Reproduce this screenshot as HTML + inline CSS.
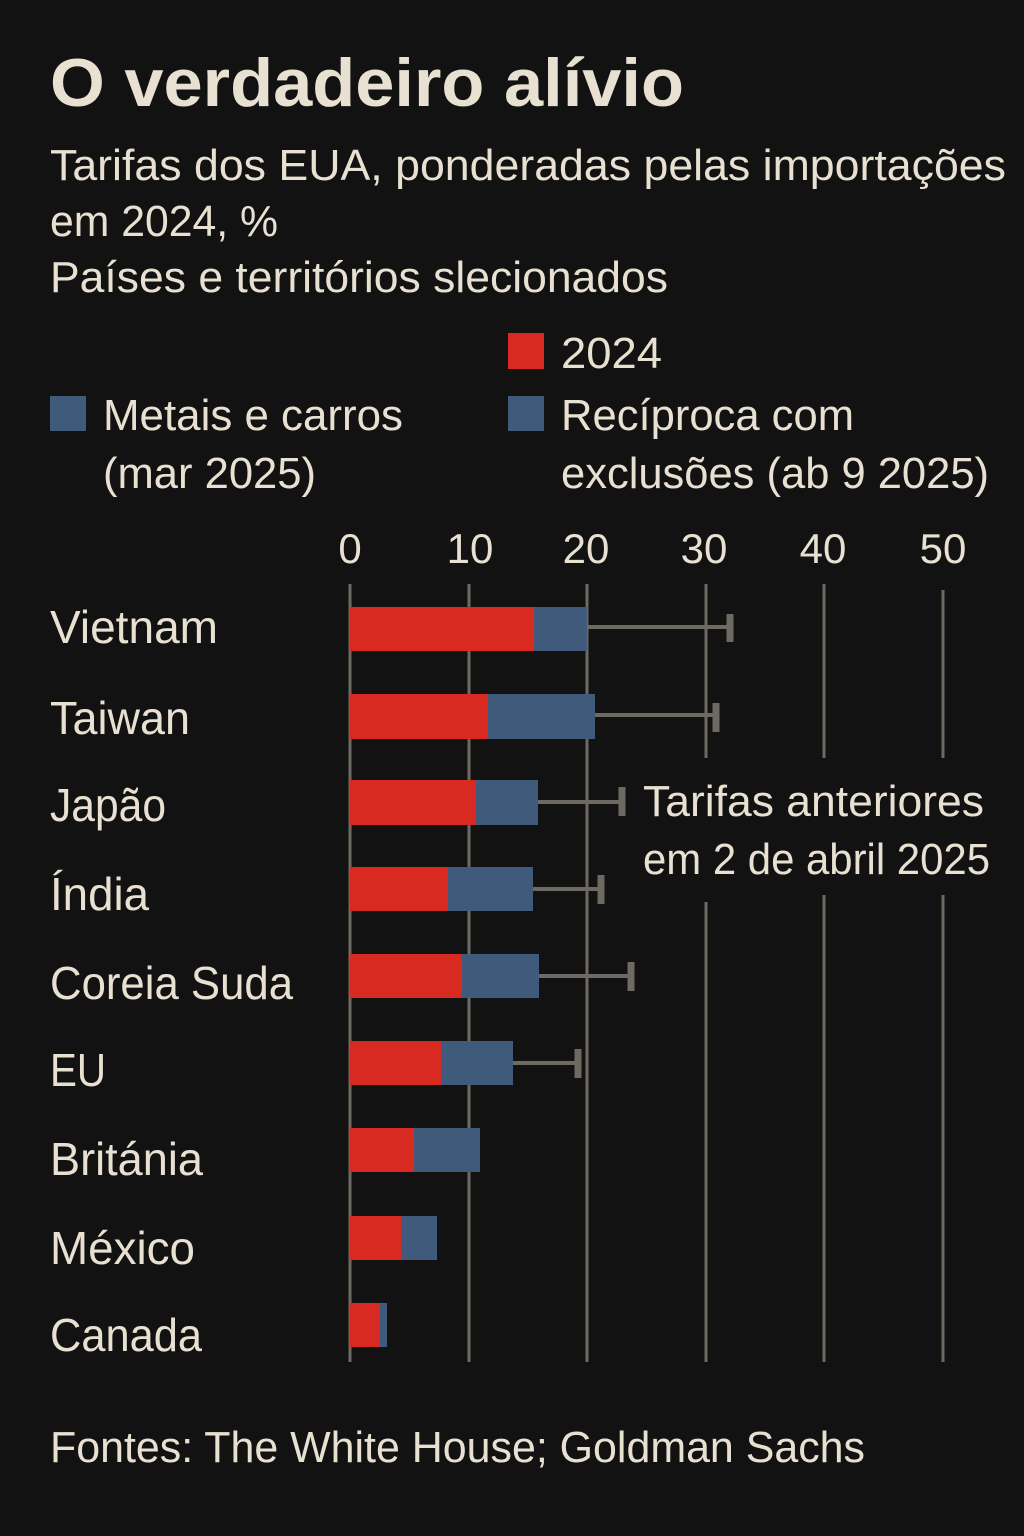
<!DOCTYPE html>
<html><head><meta charset="utf-8"><style>
html,body{margin:0;padding:0;background:#121212;}
svg{display:block}
text{font-family:"Liberation Sans Narrow","Liberation Sans",sans-serif;fill:#e8e1d2;}
</style></head><body>
<svg width="1024" height="1536" viewBox="0 0 1024 1536">
<rect width="1024" height="1536" fill="#121212"/>
<text x="50" y="106" font-size="68" font-weight="bold" textLength="634" lengthAdjust="spacingAndGlyphs">O verdadeiro alívio</text>
<text x="50" y="180" font-size="44" textLength="956" lengthAdjust="spacingAndGlyphs">Tarifas dos EUA, ponderadas pelas importações</text>
<text x="50" y="236" font-size="44" textLength="228" lengthAdjust="spacingAndGlyphs">em 2024, %</text>
<text x="50" y="292" font-size="44" textLength="618" lengthAdjust="spacingAndGlyphs">Países e territórios  slecionados</text>
<rect x="508" y="333" width="36" height="36" fill="#d92a22"/>
<text x="561" y="368" font-size="44" textLength="101" lengthAdjust="spacingAndGlyphs">2024</text>
<rect x="50" y="396" width="36" height="35" fill="#3f5a7a"/>
<text x="103" y="430" font-size="44" textLength="300" lengthAdjust="spacingAndGlyphs">Metais e carros</text>
<text x="103" y="488" font-size="44" textLength="213" lengthAdjust="spacingAndGlyphs">(mar 2025)</text>
<rect x="508" y="396" width="36" height="35" fill="#3f5a7a"/>
<text x="561" y="430" font-size="44" textLength="293" lengthAdjust="spacingAndGlyphs">Recíproca com</text>
<text x="561" y="488" font-size="44" textLength="428" lengthAdjust="spacingAndGlyphs">exclusões (ab  9 2025)</text>
<g font-size="42" text-anchor="middle">
<text x="350" y="563">0</text><text x="470" y="563">10</text><text x="586" y="563">20</text>
<text x="704" y="563">30</text><text x="823" y="563">40</text><text x="943" y="563">50</text>
</g>
<g stroke="#6e6a62" stroke-width="3">
<line x1="350" y1="584" x2="350" y2="1362"/>
<line x1="469" y1="584" x2="469" y2="1362"/>
<line x1="587" y1="584" x2="587" y2="1362"/>
<line x1="706" y1="584" x2="706" y2="758"/><line x1="706" y1="902" x2="706" y2="1362"/>
<line x1="824" y1="584" x2="824" y2="758"/><line x1="824" y1="895" x2="824" y2="1362"/>
<line x1="943" y1="590" x2="943" y2="758"/><line x1="943" y1="895" x2="943" y2="1362"/>
</g>
<g stroke="#6e6a62" stroke-width="4">
<line x1="587" y1="627" x2="728" y2="627"/><line x1="730" y1="614" x2="730" y2="642" stroke-width="7"/>
<line x1="595" y1="715" x2="714" y2="715"/><line x1="716" y1="703" x2="716" y2="732" stroke-width="7"/>
<line x1="538" y1="802" x2="620" y2="802"/><line x1="622" y1="787" x2="622" y2="816" stroke-width="7"/>
<line x1="533" y1="889" x2="599" y2="889"/><line x1="601" y1="875" x2="601" y2="904" stroke-width="7"/>
<line x1="539" y1="976" x2="629" y2="976"/><line x1="631" y1="962" x2="631" y2="991" stroke-width="7"/>
<line x1="513" y1="1063" x2="576" y2="1063"/><line x1="578" y1="1049" x2="578" y2="1078" stroke-width="7"/>
</g>
<g>
<rect x="350" y="607" width="184" height="44" fill="#d92a22"/><rect x="534" y="607" width="53" height="44" fill="#3f5a7a"/>
<rect x="350" y="694" width="138" height="45" fill="#d92a22"/><rect x="488" y="694" width="107" height="45" fill="#3f5a7a"/>
<rect x="350" y="780" width="126" height="45" fill="#d92a22"/><rect x="476" y="780" width="62" height="45" fill="#3f5a7a"/>
<rect x="350" y="867" width="98" height="44" fill="#d92a22"/><rect x="448" y="867" width="85" height="44" fill="#3f5a7a"/>
<rect x="350" y="954" width="112" height="44" fill="#d92a22"/><rect x="462" y="954" width="77" height="44" fill="#3f5a7a"/>
<rect x="350" y="1041" width="91" height="44" fill="#d92a22"/><rect x="441" y="1041" width="72" height="44" fill="#3f5a7a"/>
<rect x="350" y="1128" width="64" height="44" fill="#d92a22"/><rect x="414" y="1128" width="66" height="44" fill="#3f5a7a"/>
<rect x="350" y="1216" width="51" height="44" fill="#d92a22"/><rect x="401" y="1216" width="36" height="44" fill="#3f5a7a"/>
<rect x="350" y="1303" width="30" height="44" fill="#d92a22"/><rect x="380" y="1303" width="7" height="44" fill="#3f5a7a"/>
</g>
<g font-size="46">
<text x="50" y="643" textLength="168" lengthAdjust="spacingAndGlyphs">Vietnam</text>
<text x="50" y="734" textLength="140" lengthAdjust="spacingAndGlyphs">Taiwan</text>
<text x="50" y="821" textLength="116" lengthAdjust="spacingAndGlyphs">Japão</text>
<text x="50" y="910" textLength="99" lengthAdjust="spacingAndGlyphs">Índia</text>
<text x="50" y="999" textLength="243" lengthAdjust="spacingAndGlyphs">Coreia Suda</text>
<text x="50" y="1086" textLength="56" lengthAdjust="spacingAndGlyphs">EU</text>
<text x="50" y="1175" textLength="153" lengthAdjust="spacingAndGlyphs">Británia</text>
<text x="50" y="1264" textLength="145" lengthAdjust="spacingAndGlyphs">México</text>
<text x="50" y="1351" textLength="152" lengthAdjust="spacingAndGlyphs">Canada</text>
</g>
<text x="643" y="816" font-size="44" textLength="341" lengthAdjust="spacingAndGlyphs">Tarifas anteriores</text>
<text x="643" y="874" font-size="44" textLength="347" lengthAdjust="spacingAndGlyphs">em 2 de abril 2025</text>
<text x="50" y="1462" font-size="44" textLength="815" lengthAdjust="spacingAndGlyphs">Fontes: The White House; Goldman Sachs</text>
</svg>
</body></html>
